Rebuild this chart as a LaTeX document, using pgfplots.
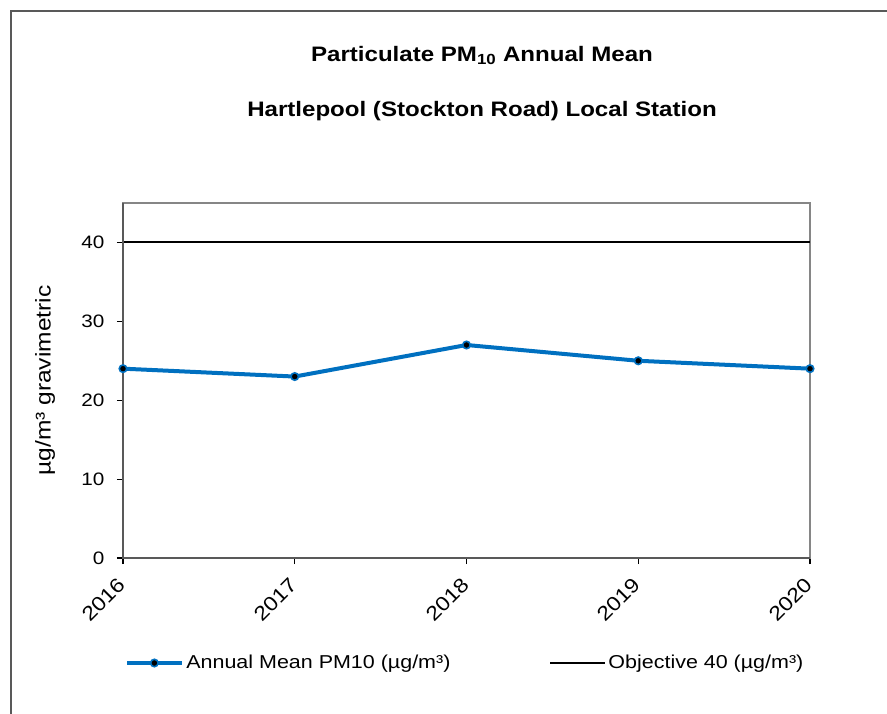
\documentclass[border=0pt]{standalone}
\usepackage{fontspec}
\setmainfont[FakeStretch=1.15]{Liberation Sans}
\usepackage{pgfplots}
\pgfplotsset{compat=1.18}

\definecolor{pmblue}{RGB}{0,112,192}
\definecolor{framegray}{RGB}{89,89,89}
\definecolor{boxgray}{RGB}{134,134,134}

\pgfplotstableread{
year pm10 objective
0 24 40
1 23 40
2 27 40
3 25 40
4 24 40
}\pmdata

\begin{document}
\begin{tikzpicture}
% overall page: 887 x 713 units of 0.75pt, plot box at (123,203)-(810,558)
\useasboundingbox (-92.25pt,-116.25pt) rectangle (573pt,418.5pt);
\draw[framegray, line width=1.1pt] (-84pt,-120pt) -- (-84pt,410.25pt) -- (580pt,410.25pt);

\node[font=\bfseries\fontsize{15.7}{19}\selectfont, anchor=center] at (269.25pt,377pt)
  {Particulate PM\textsubscript{10} Annual Mean};
\node[font=\bfseries\fontsize{15.7}{19}\selectfont, anchor=center] at (269.25pt,335.5pt)
  {Hartlepool (Stockton Road) Local Station};

\begin{axis}[
  at={(0,0)}, anchor=south west,
  scale only axis,
  width=515.25pt, height=266.25pt,
  xmin=0, xmax=4, ymin=0, ymax=45,
  xtick={0,1,2,3,4},
  xticklabels={2016,2017,2018,2019,2020},
  ytick={0,10,20,30,40},
  tick align=outside,
  xtick pos=bottom, ytick pos=left,
  major tick length=4.5pt,
  tick style={black, line width=0.8pt},
  axis line style={boxgray, line width=1.3pt},
  /pgf/number format/assume math mode=true,
  ticklabel style={font=\fontsize{13.5}{16}\selectfont},
  yticklabel style={xshift=-6pt},
  xticklabel style={font=\fontsize{15}{18}\selectfont, yshift=-12.5pt, xshift=0pt,
    rotate=45, anchor=east, inner sep=1pt},
  ylabel={µg/m³ gravimetric},
  ylabel style={font=\fontsize{16}{19}\selectfont, at={(axis description cs:-0.1135,0.5)}, anchor=center},
  legend columns=2,
  legend style={at={(256.9pt,-78.75pt)}, anchor=center, draw=none, fill=none,
    font=\fontsize{14}{17}\selectfont,
    /tikz/every even column/.append style={column sep=72pt}},
  legend image code/.code={
    \draw[mark repeat=2, mark phase=2, #1] plot coordinates {(0pt,0pt) (20.5pt,0pt) (41pt,0pt)};
  },
  clip=false,
]
\addplot[pmblue, line width=3pt, mark=*, mark size=2.8pt,
  mark options={fill=black, draw=pmblue, line width=1.2pt}]
  table[x=year, y=pm10] {\pmdata};
\addlegendentry{Annual Mean PM10 (µg/m³)}
\addplot[black, line width=1.5pt] table[x=year, y=objective] {\pmdata};
\addlegendentry{Objective 40 (µg/m³)}
% darker left and bottom axis lines
\draw[framegray, line width=1.3pt] (rel axis cs:0,1) -- (rel axis cs:0,0) -- (rel axis cs:1,0);
\end{axis}
\end{tikzpicture}
\end{document}
